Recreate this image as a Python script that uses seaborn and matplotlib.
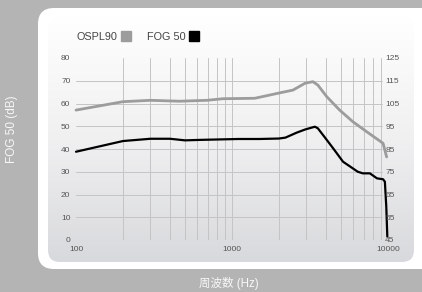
import numpy as np
import matplotlib
matplotlib.use('Agg')
import matplotlib.pyplot as plt
import seaborn as sns
from matplotlib.patches import FancyBboxPatch
from matplotlib.lines import Line2D
from matplotlib.colors import LinearSegmentedColormap

sns.set_theme(style='white')
plt.rcParams['font.family'] = ['Liberation Sans', 'Noto Sans CJK JP', 'DejaVu Sans']

# OSPL90 curve (right axis, dB)
ospl_freq = [100, 200, 300, 460, 690, 875, 1125, 1400, 1970, 2460, 2940, 3300,
             3550, 4050, 4900, 5950, 7300, 8500, 9300, 9800]
ospl_db = [102.1, 105.8, 106.4, 106.0, 106.4, 107.1, 107.2, 107.3, 109.5, 110.9,
           113.9, 114.6, 113.1, 108.0, 102.1, 97.0, 92.6, 89.4, 87.5, 81.5]

# FOG 50 curve (left axis, dB)
fog_freq = [100, 200, 300, 400, 500, 620, 1100, 1500, 2000, 2200, 2600, 2950,
            3400, 3550, 4050, 4450, 5150, 5660, 6400, 6900, 7650, 8500, 9300,
            9550, 9750, 9900]
fog_db = [38.8, 43.5, 44.5, 44.5, 43.8, 44.0, 44.4, 44.4, 44.6, 45.0, 47.2, 48.6,
          49.8, 49.1, 44.0, 40.3, 34.4, 32.5, 30.0, 29.3, 29.3, 27.1, 26.7,
          25.6, 14.6, 1.5]

left_ticks = [0, 10, 20, 30, 40, 50, 60, 70, 80]
right_ticks = [45, 55, 65, 75, 85, 95, 105, 115, 125]
x_ticks = [100, 1000, 10000]
grid_freqs = [200, 300, 400, 500, 600, 700, 800, 900, 1000,
              2000, 3000, 4000, 5000, 6000, 7000, 8000, 9000]

W, H = 422, 292
fig = plt.figure(figsize=(W / 100, H / 100), dpi=100)
fig.patch.set_facecolor('#b4b4b4')

# background panel (pixel coordinates)
bg = fig.add_axes([0, 0, 1, 1], zorder=-1)
bg.axis('off')
outer = FancyBboxPatch((38, 8), 400, 261, boxstyle='round,pad=0,rounding_size=16',
                       fc='white', ec='none', zorder=1)
bg.add_patch(outer)
inner = FancyBboxPatch((48, 16), 366, 246, boxstyle='round,pad=0,rounding_size=12',
                       fc='none', ec='none')
bg.add_patch(inner)
cmap = LinearSegmentedColormap.from_list('panel', ['#ffffff', '#f0f0f1', '#d8d9dc'])
grad = np.linspace(0, 1, 256).reshape(-1, 1)
im = bg.imshow(grad, extent=(48, 414, 262, 16), aspect='auto', cmap=cmap, zorder=2)
im.set_clip_path(inner)
bg.set_xlim(0, W)
bg.set_ylim(H, 0)

# main chart
ax = fig.add_axes([76 / W, 1 - 240 / H, 312 / W, 182 / H])
ax.set_facecolor('none')
ax.set_xscale('log')
ax.set_xlim(100, 10000)
ax.set_ylim(0, 80)
for f in grid_freqs:
    ax.axvline(f, color='#c4c4c6', lw=0.7, zorder=0)
for v in left_ticks[1:-1]:
    ax.axhline(v, xmin=0, xmax=0.98, color='#c4c4c6', lw=0.7, zorder=0)

sns.lineplot(x=fog_freq, y=fog_db, ax=ax, color='black', lw=1.6, clip_on=False)

ax.set_yticks(left_ticks)
ax.set_yticklabels([str(t) for t in left_ticks])
ax.set_xticks(x_ticks)
ax.set_xticklabels([str(t) for t in x_ticks])
ax.xaxis.set_minor_locator(plt.NullLocator())
ax.tick_params(axis='both', length=0, labelsize=6, labelcolor='#555555')
ax.tick_params(axis='y', pad=4)
ax.tick_params(axis='x', pad=4)
for s in ax.spines.values():
    s.set_visible(False)

ax2 = ax.twinx()
ax2.set_ylim(45, 125)
sns.lineplot(x=ospl_freq, y=ospl_db, ax=ax2, color='#9c9c9c', lw=2.0, clip_on=False)
ax2.set_yticks(right_ticks)
ax2.set_yticklabels([str(t) for t in right_ticks])
ax2.tick_params(axis='y', length=0, labelsize=6, labelcolor='#555555', pad=-2)
for s in ax2.spines.values():
    s.set_visible(False)
ax.set_xlabel('')
ax.set_ylabel('')
ax2.set_ylabel('')

handles = [Line2D([], [], marker='s', ls='', color='#9c9c9c', ms=6.5),
           Line2D([], [], marker='s', ls='', color='black', ms=6.5)]
ax.legend(handles, ['OSPL90', 'FOG 50'], ncol=2, frameon=False, markerfirst=False,
          loc='center left', bbox_to_anchor=(67 / W, 1 - 37 / H),
          bbox_transform=fig.transFigure, fontsize=7.8, labelcolor='#444444',
          handletextpad=0.3, columnspacing=1.4, handlelength=1.0)

fig.text(12 / W, 1 - 129 / H, 'FOG 50 (dB)', rotation=90, color='white',
         fontsize=8.5, ha='center', va='center', alpha=0.9)
fig.text(229 / W, 1 - 284 / H, '周波数 (Hz)', color='white', fontsize=8.3,
         ha='center', va='center', alpha=0.9)

fig.savefig('out.png', dpi=100, facecolor=fig.get_facecolor())
